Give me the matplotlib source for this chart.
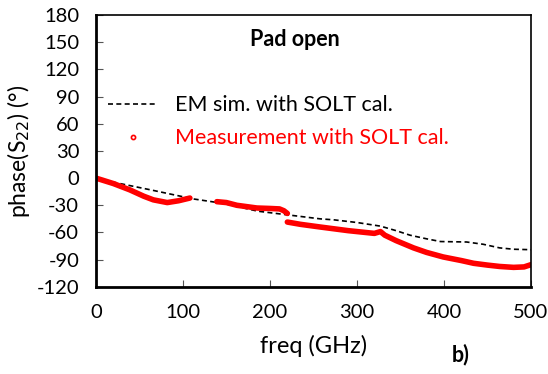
import matplotlib
matplotlib.use("Agg")
import matplotlib.pyplot as plt
from matplotlib.lines import Line2D

plt.rcParams['font.family'] = ['Lato', 'DejaVu Sans']
plt.rcParams['axes.unicode_minus'] = False

# EM simulation (dashed)
sim_f = [0, 25, 63, 112, 147, 186, 224, 258, 273, 300, 327, 345, 361, 380, 396, 426, 445, 464, 480, 500]
sim_ph = [0, -5.5, -13, -23, -28, -36.5, -41, -45, -46, -49, -53, -58, -63, -67, -70, -70.5, -73, -77, -78.5, -79]

# Measurement, three separate segments
meas1_f = [0, 20, 39, 55, 66, 82, 95, 108]
meas1_ph = [0, -6, -13, -20, -24, -27, -25, -22]
meas2_f = [139, 150, 162, 185, 200, 211, 216, 220]
meas2_ph = [-26, -27, -30, -33, -33.5, -34, -36, -39]
meas3_f = [220, 235, 258, 290, 320, 327, 332, 345, 365, 380, 399, 420, 434, 450, 464, 480, 492, 500]
meas3_ph = [-48.5, -51, -54, -58, -61, -59, -63, -69, -77, -82, -87, -91, -94, -96, -97.5, -98.5, -98, -95.5]

xticks = [0, 100, 200, 300, 400, 500]
yticks = [-120, -90, -60, -30, 0, 30, 60, 90, 120, 150, 180]

fig = plt.figure(figsize=(5.48, 3.74), dpi=100)
ax = fig.add_axes([0.175, 0.233, 0.794, 0.727])

ax.plot(sim_f, sim_ph, color='black', linestyle=(0, (3, 2)), linewidth=1.2)
for f, ph in [(meas1_f, meas1_ph), (meas2_f, meas2_ph), (meas3_f, meas3_ph)]:
    ax.plot(f, ph, color='red', linewidth=4, solid_capstyle='round')

ax.set_xlim(0, 500)
ax.set_ylim(-120, 180)
ax.set_xticks(xticks)
ax.set_yticks(yticks)
ax.tick_params(direction='in', labelsize=14.5, pad=12, length=5, color='#555555')
for s in ['left', 'bottom']:
    ax.spines[s].set_linewidth(2)
for s in ['top', 'right']:
    ax.spines[s].set_linewidth(1.2)

ax.set_xlabel('freq (GHz)', fontsize=17, labelpad=10)
ax.set_ylabel('phase(S$_{22}$) (°)', fontsize=16.5)
ax.yaxis.set_label_coords(-0.148, 0.5)

handles = [Line2D([], [], color='black', linestyle=(0, (3, 2)), linewidth=1.2),
           Line2D([], [], color='red', marker='o', linestyle='none', markersize=3,
                  markerfacecolor='none', markeredgewidth=1.2)]
ax.legend(handles, ['EM sim. with SOLT cal.', 'Measurement with SOLT cal.'],
          loc='upper left', bbox_to_anchor=(0.028, 0.705), frameon=False, fontsize=15.5,
          labelcolor=['black', 'red'], handlelength=2.3, handletextpad=0.8,
          labelspacing=0.6, borderpad=0, borderaxespad=0)

ax.text(0.457, 0.908, 'Pad open', transform=ax.transAxes, fontsize=15.5,
        fontweight='bold', ha='center', va='center')
fig.text(0.825, 0.051, 'b)', fontsize=15.5, fontweight='bold', ha='left', va='center')

fig.savefig('out.png', dpi=100)
